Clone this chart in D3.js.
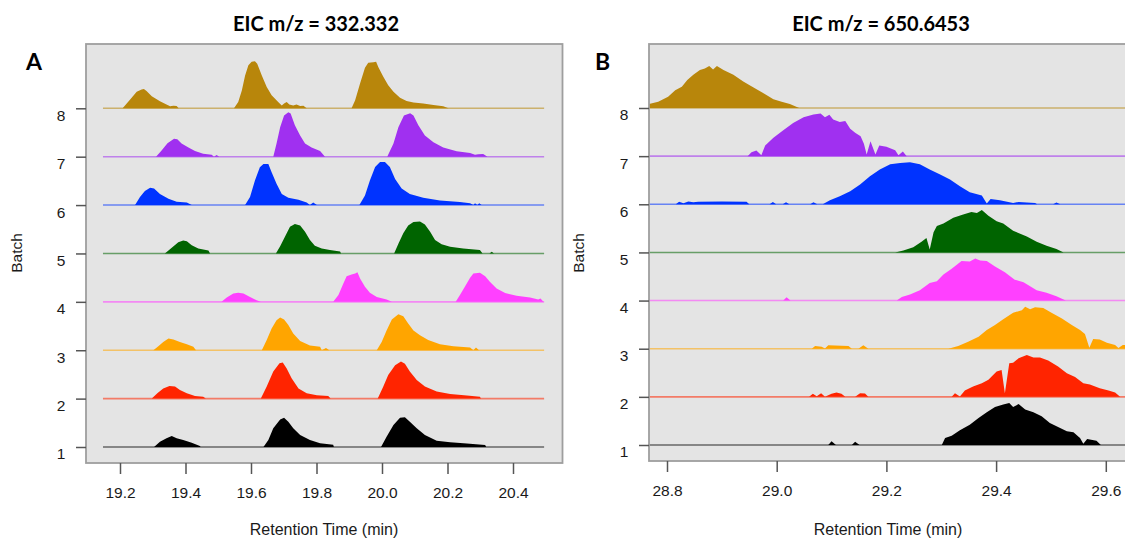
<!DOCTYPE html>
<html>
<head>
<meta charset="utf-8">
<script src="https://cdn.jsdelivr.net/npm/d3@7"></script>
<style>
  body { margin: 0; background: #fff; }
  text { font-family: "Liberation Sans", Arial, sans-serif; fill: #1a1a1a; }
  .title, .letter { font-family: Lato, "Open Sans", sans-serif; font-weight: bold; fill: #000; }
</style>
</head>
<body>
<div id="chart"></div>
<script>
// batch ids and colours (1 = bottom)
var batchIds = [1, 2, 3, 4, 5, 6, 7, 8];
var batchColors = ["#000000", "#ff2400", "#ffa500", "#ff40ff", "#006400", "#0033ff", "#a030f0", "#b8860b"];

var ticksA = [19.2, 19.4, 19.6, 19.8, 20.0, 20.2, 20.4];
var ticksB = [28.8, 29.0, 29.2, 29.4, 29.6];
var baseA = [19.148, 20.495];
var baseB = [28.767, 29.64];

// EIC traces: [retention time, relative intensity]
var A1 = [[19.304,0],[19.322,0.11],[19.342,0.18],[19.358,0.227],[19.373,0.18],[19.393,0.145],[19.419,0.09],[19.444,0.02],[19.446,0],
  [19.638,0],[19.653,0.145],[19.668,0.385],[19.689,0.57],[19.701,0.606],[19.714,0.52],[19.729,0.385],[19.750,0.25],[19.780,0.145],[19.811,0.076],[19.851,0.048],[19.853,0],
  [19.997,0],[20.014,0.21],[20.035,0.455],[20.055,0.606],[20.070,0.613],[20.085,0.52],[20.106,0.385],[20.131,0.25],[20.167,0.13],[20.208,0.096],[20.259,0.07],[20.315,0.04],[20.318,0]];
var A2 = [[19.297,0],[19.314,0.11],[19.332,0.21],[19.351,0.26],[19.368,0.25],[19.383,0.18],[19.404,0.11],[19.429,0.055],[19.454,0.04],[19.462,0],
  [19.630,0],[19.648,0.25],[19.668,0.56],[19.687,0.73],[19.697,0.745],[19.709,0.62],[19.724,0.42],[19.745,0.21],[19.770,0.11],[19.801,0.07],[19.836,0.055],[19.843,0],
  [19.987,0],[20.004,0.25],[20.019,0.49],[20.040,0.69],[20.058,0.765],[20.070,0.72],[20.085,0.56],[20.106,0.385],[20.131,0.25],[20.167,0.145],[20.208,0.096],[20.259,0.062],[20.299,0.04],[20.302,0]];
var A3 = [[19.302,0],[19.317,0.083],[19.332,0.17],[19.348,0.24],[19.363,0.22],[19.383,0.17],[19.404,0.124],[19.424,0.07],[19.432,0],
  [19.633,0],[19.648,0.21],[19.663,0.45],[19.678,0.62],[19.689,0.675],[19.701,0.635],[19.714,0.52],[19.729,0.345],[19.750,0.19],[19.780,0.1],[19.811,0.07],[19.816,0],[19.829,0.048],[19.839,0],
  [19.984,0],[19.999,0.17],[20.014,0.41],[20.030,0.635],[20.050,0.745],[20.065,0.70],[20.080,0.55],[20.096,0.41],[20.116,0.31],[20.141,0.21],[20.177,0.124],[20.218,0.083],[20.269,0.055],[20.279,0],[20.287,0.055],[20.296,0]];
var A4 = [[19.510,0],[19.526,0.09],[19.546,0.17],[19.561,0.19],[19.577,0.17],[19.597,0.1],[19.617,0.035],[19.630,0],
  [19.851,0],[19.867,0.14],[19.882,0.38],[19.892,0.53],[19.907,0.565],[19.918,0.585],[19.925,0.61],[19.933,0.48],[19.948,0.31],[19.963,0.19],[19.984,0.1],[20.014,0.048],[20.030,0],
  [20.225,0],[20.238,0.14],[20.253,0.31],[20.269,0.5],[20.279,0.585],[20.299,0.6],[20.315,0.53],[20.330,0.41],[20.350,0.275],[20.376,0.185],[20.411,0.124],[20.452,0.09],[20.477,0.048],[20.484,0.07],[20.493,0]];
var A5 = [[19.337,0],[19.358,0.12],[19.378,0.23],[19.393,0.27],[19.404,0.25],[19.419,0.17],[19.439,0.1],[19.470,0.06],[19.475,0],
  [19.676,0],[19.689,0.15],[19.704,0.35],[19.719,0.55],[19.734,0.61],[19.750,0.58],[19.765,0.45],[19.780,0.28],[19.795,0.16],[19.816,0.1],[19.841,0.07],[19.872,0.04],[19.875,0],
  [20.037,0],[20.050,0.2],[20.065,0.42],[20.080,0.58],[20.096,0.65],[20.116,0.66],[20.131,0.6],[20.147,0.45],[20.162,0.28],[20.182,0.19],[20.208,0.14],[20.248,0.1],[20.299,0.07],[20.307,0],[20.328,0],[20.335,0.035],[20.342,0]];
var A6 = [[19.246,0],[19.261,0.165],[19.276,0.29],[19.292,0.36],[19.304,0.34],[19.322,0.23],[19.348,0.13],[19.373,0.07],[19.404,0.055],[19.419,0],
  [19.582,0],[19.597,0.165],[19.612,0.51],[19.627,0.78],[19.638,0.85],[19.653,0.85],[19.663,0.68],[19.678,0.44],[19.694,0.23],[19.714,0.15],[19.745,0.11],[19.770,0.055],[19.780,0],[19.790,0.055],[19.801,0],
  [19.931,0],[19.948,0.2],[19.963,0.51],[19.979,0.785],[19.994,0.89],[20.009,0.89],[20.024,0.785],[20.040,0.54],[20.060,0.34],[20.085,0.23],[20.126,0.15],[20.177,0.096],[20.238,0.062],[20.269,0.04],[20.279,0],[20.284,0.04],[20.291,0],[20.297,0.04],[20.304,0]];
var A7 = [[19.310,0],[19.327,0.13],[19.345,0.28],[19.365,0.37],[19.375,0.36],[19.388,0.27],[19.409,0.19],[19.429,0.12],[19.454,0.06],[19.480,0.04],[19.487,0],[19.495,0.035],[19.503,0],
  [19.668,0],[19.678,0.27],[19.689,0.61],[19.701,0.85],[19.714,0.92],[19.721,0.89],[19.734,0.65],[19.750,0.44],[19.765,0.27],[19.785,0.19],[19.811,0.12],[19.826,0],
  [20.016,0],[20.035,0.27],[20.050,0.61],[20.067,0.85],[20.086,0.90],[20.096,0.85],[20.111,0.65],[20.131,0.44],[20.157,0.30],[20.187,0.19],[20.228,0.11],[20.269,0.076],[20.284,0.04],[20.294,0.048],[20.309,0.055],[20.322,0]];
var A8 = [[19.208,0],[19.231,0.18],[19.251,0.34],[19.266,0.39],[19.273,0.40],[19.281,0.36],[19.297,0.25],[19.322,0.145],[19.345,0.07],[19.353,0.04],[19.363,0.055],[19.373,0.05],[19.379,0],
  [19.548,0],[19.561,0.13],[19.572,0.37],[19.582,0.68],[19.592,0.89],[19.602,0.96],[19.612,0.97],[19.619,0.92],[19.633,0.68],[19.648,0.44],[19.663,0.27],[19.683,0.13],[19.694,0.06],[19.701,0.1],[19.709,0.13],[19.717,0.08],[19.729,0.06],[19.739,0.08],[19.750,0.05],[19.760,0.055],[19.770,0],
  [19.907,0],[19.918,0.165],[19.933,0.51],[19.948,0.84],[19.958,0.94],[19.974,0.95],[19.982,0.96],[19.989,0.85],[20.004,0.65],[20.019,0.475],[20.035,0.34],[20.055,0.22],[20.075,0.15],[20.096,0.12],[20.126,0.10],[20.157,0.07],[20.187,0.04],[20.203,0]];

var B1 = [[29.094,0],[29.100,0.076],[29.108,0],[29.137,0],[29.143,0.07],[29.151,0],
  [29.301,0],[29.307,0.145],[29.319,0.194],[29.334,0.305],[29.352,0.42],[29.368,0.56],[29.383,0.68],[29.398,0.79],[29.413,0.84],[29.424,0.875],[29.431,0.79],[29.441,0.85],[29.453,0.735],[29.468,0.68],[29.483,0.595],[29.498,0.457],[29.513,0.374],[29.529,0.285],[29.541,0.263],[29.553,0.145],[29.559,0.028],[29.566,0.125],[29.583,0.09],[29.591,0]];
var B2 = [[29.059,0],[29.066,0.062],[29.073,0.014],[29.081,0.076],[29.088,0],[29.100,0.062],[29.109,0.09],[29.118,0.062],[29.125,0],
  [29.143,0],[29.152,0.076],[29.161,0.07],[29.167,0],
  [29.319,0],[29.325,0.076],[29.334,0.007],[29.343,0.13],[29.358,0.215],[29.374,0.285],[29.386,0.355],[29.401,0.525],[29.410,0.56],[29.416,0.076],[29.424,0.7],[29.431,0.71],[29.441,0.8],[29.456,0.87],[29.468,0.82],[29.480,0.82],[29.495,0.755],[29.513,0.63],[29.529,0.49],[29.544,0.41],[29.559,0.285],[29.571,0.255],[29.589,0.18],[29.605,0.13],[29.617,0.09],[29.626,0]];
var B3 = [[29.064,0],[29.070,0.055],[29.082,0.042],[29.088,0.007],[29.094,0.07],[29.131,0.055],[29.137,0],
  [29.149,0],[29.158,0.07],[29.167,0],
  [29.313,0],[29.331,0.055],[29.349,0.145],[29.368,0.25],[29.383,0.39],[29.398,0.49],[29.413,0.61],[29.431,0.745],[29.447,0.80],[29.453,0.87],[29.462,0.82],[29.471,0.86],[29.486,0.845],[29.501,0.745],[29.520,0.63],[29.538,0.49],[29.553,0.39],[29.562,0.305],[29.570,0.02],[29.577,0.2],[29.589,0.194],[29.602,0.125],[29.617,0.076],[29.623,0.014],[29.631,0.076],[29.638,0.076]];
var B4 = [[29.012,0],[29.018,0.07],[29.025,0],
  [29.219,0],[29.228,0.076],[29.243,0.125],[29.261,0.215],[29.279,0.365],[29.292,0.4],[29.304,0.54],[29.319,0.66],[29.337,0.82],[29.352,0.81],[29.362,0.875],[29.371,0.83],[29.383,0.82],[29.398,0.71],[29.416,0.59],[29.434,0.435],[29.450,0.38],[29.474,0.215],[29.492,0.16],[29.510,0.09],[29.527,0]];
var B5 = [[29.216,0],[29.231,0.04],[29.249,0.11],[29.264,0.22],[29.273,0.3],[29.279,0.06],[29.286,0.42],[29.292,0.55],[29.304,0.6],[29.322,0.72],[29.340,0.79],[29.355,0.84],[29.365,0.82],[29.374,0.88],[29.386,0.76],[29.401,0.65],[29.413,0.60],[29.431,0.45],[29.456,0.33],[29.474,0.22],[29.492,0.14],[29.510,0.07],[29.523,0]];
var B6 = [[28.816,0],[28.822,0.055],[28.830,0.02],[28.839,0.06],[28.848,0.04],[28.857,0.055],[28.900,0.06],[28.945,0.055],[28.950,0],
  [28.987,0],[28.993,0.05],[28.999,0],
  [29.011,0],[29.017,0.04],[29.023,0],
  [29.061,0],[29.067,0.04],[29.074,0],
  [29.084,0],[29.097,0.083],[29.115,0.166],[29.134,0.27],[29.152,0.41],[29.170,0.58],[29.188,0.72],[29.207,0.83],[29.225,0.86],[29.243,0.875],[29.261,0.83],[29.279,0.72],[29.298,0.62],[29.316,0.515],[29.334,0.375],[29.352,0.25],[29.374,0.18],[29.383,0.014],[29.390,0.11],[29.407,0.083],[29.431,0.028],[29.441,0.048],[29.471,0.028],[29.475,0],
  [29.504,0],[29.510,0.035],[29.517,0]];
var B7 = [[28.947,0],[28.954,0.083],[28.963,0.118],[28.972,0.02],[28.979,0.22],[28.994,0.38],[29.012,0.54],[29.030,0.69],[29.049,0.81],[29.067,0.865],[29.080,0.886],[29.088,0.81],[29.096,0.86],[29.103,0.76],[29.115,0.71],[29.125,0.73],[29.134,0.57],[29.143,0.485],[29.153,0.415],[29.159,0.26],[29.164,0.035],[29.171,0.31],[29.180,0.035],[29.187,0.22],[29.200,0.194],[29.216,0.125],[29.222,0.02],[29.230,0.097],[29.237,0]];
var B8 = [[28.767,0.083],[28.784,0.13],[28.802,0.235],[28.815,0.37],[28.827,0.44],[28.837,0.58],[28.848,0.69],[28.860,0.79],[28.869,0.82],[28.877,0.87],[28.884,0.80],[28.891,0.87],[28.903,0.79],[28.921,0.69],[28.939,0.55],[28.957,0.43],[28.976,0.305],[28.994,0.18],[29.009,0.13],[29.024,0.083],[29.041,0]];

var svg = d3.select("#chart")
    .append("svg")
    .attr("width", 1125)
    .attr("height", 542)

function drawPanel(p) {
    var x = d3.scaleLinear().domain(p.xDom).range(p.xRange);
    var y = d3.scaleLinear().domain([1, 8]).range(p.yRange);
    var g = svg.append("g");

    g.append("rect")
        .attr("x", p.box[0]).attr("y", p.box[1])
        .attr("width", p.box[2] - p.box[0]).attr("height", p.box[3] - p.box[1])
        .attr("fill", "#e4e4e4")

    g.append("clipPath").attr("id", "clip" + p.id)
        .append("rect")
        .attr("x", p.box[0]).attr("y", p.box[1])
        .attr("width", p.box[2] - p.box[0]).attr("height", p.box[3] - p.box[1])

    var plot = g.append("g").attr("clip-path", "url(#clip" + p.id + ")");

    p.series.forEach(function(s, i) {
        var b = batchIds[i];
        plot.append("line")
            .attr("x1", x(p.base[0])).attr("x2", x(p.base[1]))
            .attr("y1", y(b)).attr("y2", y(b))
            .attr("stroke", batchColors[i])
            .attr("stroke-opacity", 0.55)
            .attr("stroke-width", 1.6)
        var area = d3.area()
            .x(function(d) { return x(d[0]); })
            .y0(y(b))
            .y1(function(d) { return y(b + d[1]); });
        plot.append("path")
            .datum(s)
            .attr("d", area)
            .attr("fill", batchColors[i])
    })

    g.append("rect")
        .attr("x", p.box[0]).attr("y", p.box[1])
        .attr("width", p.box[2] - p.box[0]).attr("height", p.box[3] - p.box[1])
        .attr("fill", "none")
        .attr("stroke", "#9e9e9e")
        .attr("stroke-width", 1.8)

    // axes
    var xAxis = g.append("g")
        .attr("transform", "translate(0," + p.box[3] + ")")
        .call(d3.axisBottom(x).tickValues(p.ticks).tickFormat(d3.format(".1f")).tickSize(11).tickSizeOuter(0).tickPadding(13));
    var yAxis = g.append("g")
        .attr("transform", "translate(" + p.box[0] + ",0)")
        .call(d3.axisLeft(y).tickValues(batchIds).tickFormat(d3.format("d")).tickSize(10).tickSizeOuter(0));

    [xAxis, yAxis].forEach(function(a) {
        a.select(".domain").remove();
        a.selectAll("line").attr("stroke", "#555").attr("stroke-width", 1.5);
        a.selectAll("text").style("font-size", "15.5px").attr("fill", "#1a1a1a");
    })
    yAxis.selectAll("text")
        .attr("text-anchor", "middle")
        .attr("x", -25)
        .attr("y", 7)

    g.append("text")
        .attr("x", p.xLabelX).attr("y", 535)
        .attr("text-anchor", "middle")
        .style("font-size", "16px")
        .text("Retention Time (min)")

    g.append("text")
        .attr("transform", "translate(" + p.yLabelX + ",253) rotate(-90)")
        .attr("text-anchor", "middle")
        .style("font-size", "15.5px")
        .text("Batch")

    g.append("text").attr("class", "title")
        .attr("x", p.titleX).attr("y", 31)
        .attr("text-anchor", "middle")
        .style("font-size", "20px")
        .text(p.title)

    g.append("text").attr("class", "letter")
        .attr("x", p.letterX).attr("y", 70)
        .style("font-size", "23px")
        .text(p.letter)
}

drawPanel({
    id: "A", series: [A1, A2, A3, A4, A5, A6, A7, A8], ticks: ticksA, base: baseA,
    xDom: [19.2, 20.4], xRange: [120, 513], yRange: [447, 108.3],
    box: [86, 44, 562.5, 463], xLabelX: 324, yLabelX: 22, titleX: 316, letterX: 26,
    title: "EIC m/z = 332.332", letter: "A"
});
drawPanel({
    id: "B", series: [B1, B2, B3, B4, B5, B6, B7, B8], ticks: ticksB, base: baseB,
    xDom: [28.8, 29.6], xRange: [667, 1105.8], yRange: [445, 108],
    box: [649, 44, 1128, 461], xLabelX: 888, yLabelX: 584, titleX: 881, letterX: 595,
    title: "EIC m/z = 650.6453", letter: "B"
});
</script>
</body>
</html>
